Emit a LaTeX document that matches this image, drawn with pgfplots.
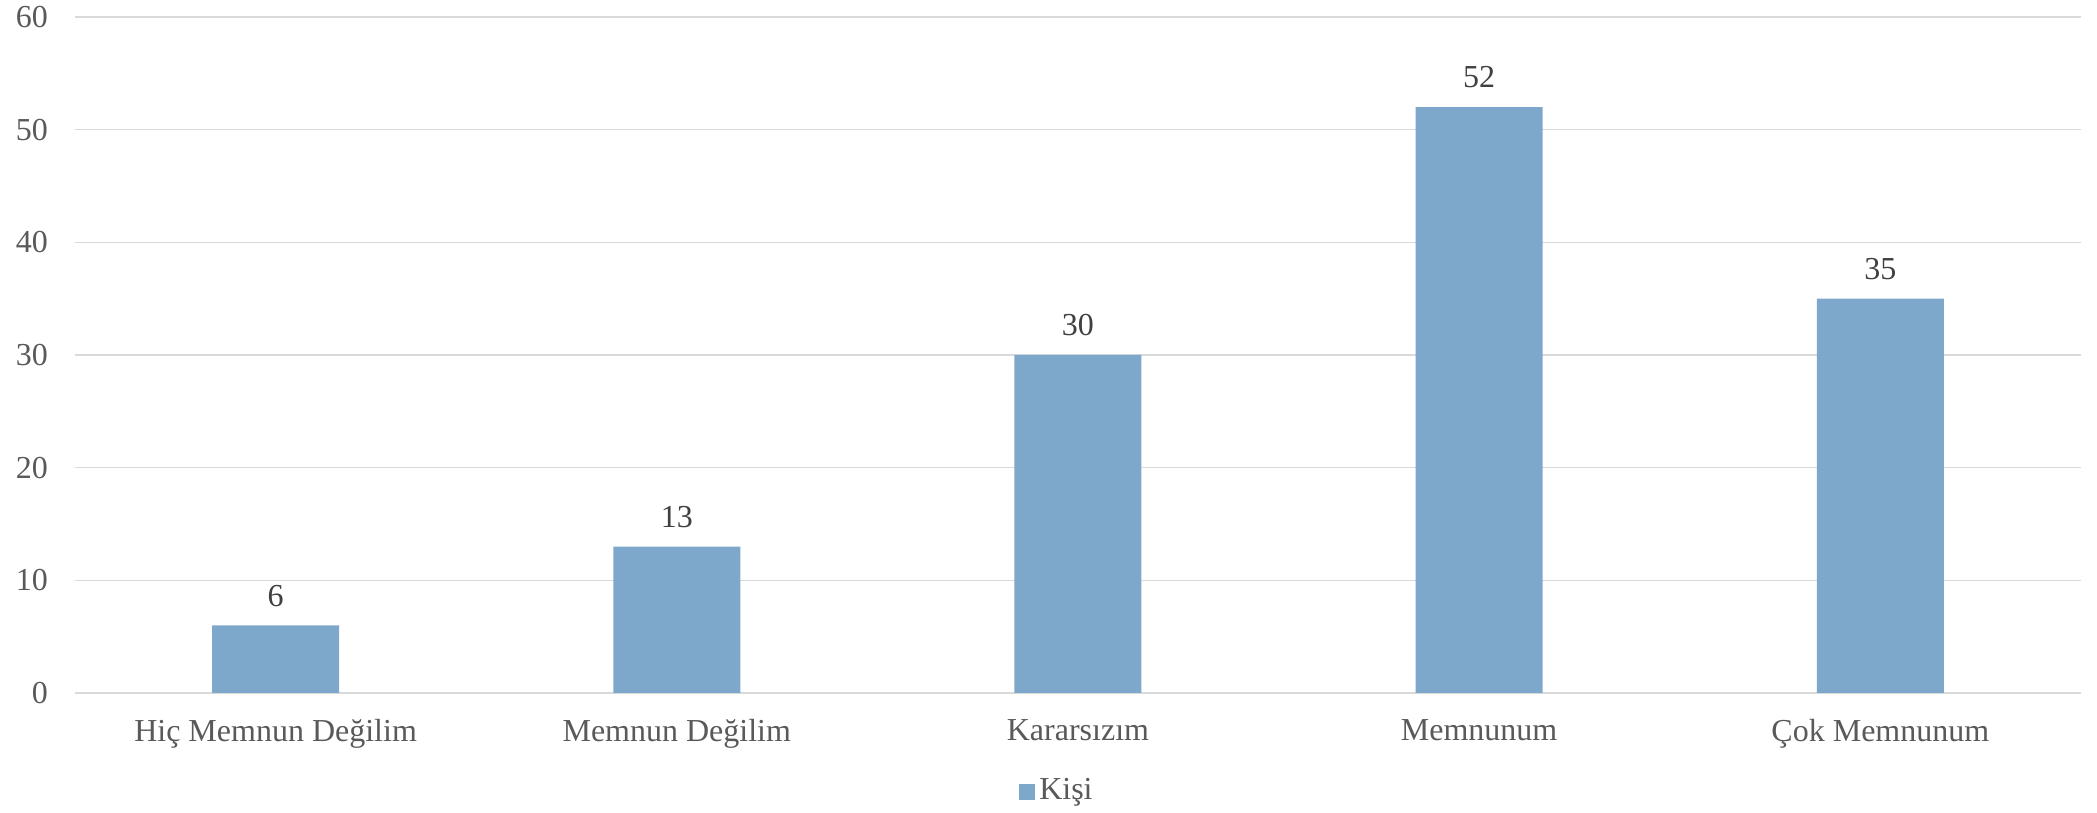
\documentclass[border=0pt]{standalone}
\usepackage{fontspec}
\setmainfont{Liberation Serif}
\usepackage{pgfplots}
\pgfplotsset{compat=1.18}
\definecolor{barc}{HTML}{7EA8CB}
\definecolor{gridc}{HTML}{D9D9D9}
\definecolor{tickc}{HTML}{595959}
\definecolor{labc}{HTML}{404040}
\begin{document}
\fontsize{16}{19}\selectfont
\begin{tikzpicture}
\path[use as bounding box] (-37.5pt,-59.7pt) rectangle (1011pt,346.5pt);
\begin{axis}[
  at={(0pt,0pt)}, anchor=south west,
  scale only axis,
  width=1003pt, height=338pt,
  xmin=-0.5, xmax=4.5, ymin=0, ymax=60,
  ytick={0,10,...,60},
  xtick=data,
  xticklabels={Hiç Memnun Değilim, Memnun Değilim, Kararsızım, Memnunum, Çok Memnunum},
  /pgf/number format/assume math mode=true,
  axis line style={draw=none},
  axis x line*=bottom,
  x axis line style={draw=gridc, line width=0.8pt},
  ymajorgrids, grid style={gridc, line width=0.8pt},
  major tick length=0pt,
  tick label style={text=tickc, font=\fontsize{16}{19}\selectfont},
  yticklabel style={xshift=-8pt},
  xticklabel style={yshift=-7.5pt},
  ybar, bar width=63.5pt,
  legend style={at={(0.49,-0.12)}, anchor=north, draw=none, font=\fontsize{16}{19}\selectfont, text=tickc, inner sep=0pt},
  legend image code/.code={\fill[barc] (0pt,-4pt) rectangle (8pt,4pt);},
  nodes near coords,
  every node near coord/.append style={text=labc, font=\fontsize{16}{19}\selectfont, yshift=4pt},
]
\addplot[fill=barc, draw=none] coordinates {(0,6) (1,13) (2,30) (3,52) (4,35)};
\addlegendentry{Kişi}
\end{axis}
\end{tikzpicture}
\end{document}
